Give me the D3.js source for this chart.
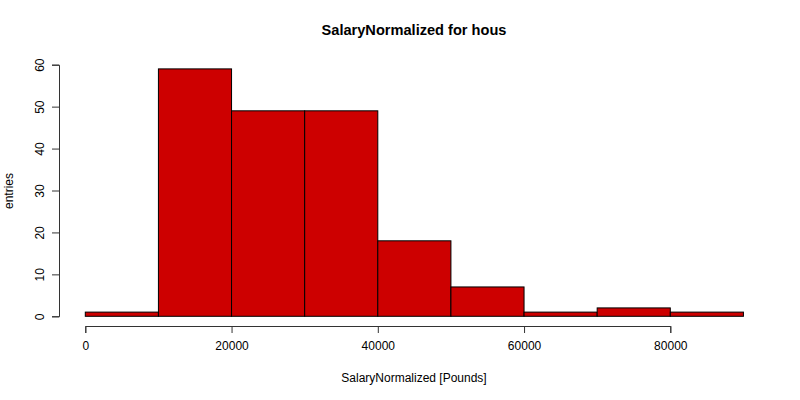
<!DOCTYPE html>
<html>
<head>
<meta charset="utf-8">
<script src="https://cdn.jsdelivr.net/npm/d3@7"></script>
<style>
  body { margin: 0; background: white; }
  text { font-family: "Liberation Sans", Arial, sans-serif; }
</style>
</head>
<body>
<div id="chart"></div>
<script>
// Histogram bins (lower edge, upper edge) and counts
const binEdges = [0, 10000, 20000, 30000, 40000, 50000, 60000, 70000, 80000, 90000];
const counts = [1, 59, 49, 49, 18, 7, 1, 2, 1];
const xTicks = [0, 20000, 40000, 60000, 80000];
const yTicks = [0, 10, 20, 30, 40, 50, 60];

const width = 800, height = 400;
const font = '"Liberation Sans", Arial, sans-serif';

const svg = d3.select('#chart').append('svg')
    .attr('width', width)
    .attr('height', height);

// Scales set to the R plot region
const x = d3.scaleLinear().domain([0, 80000]).range([85.3, 670.3]);
const y = d3.scaleLinear().domain([0, 60]).range([316.3, 64.7]);

const bins = counts.map((c, i) => ({ x0: binEdges[i], x1: binEdges[i + 1], n: c }));

svg.append('g')
  .selectAll('rect')
  .data(bins)
  .join('rect')
    .attr('x', d => x(d.x0))
    .attr('y', d => y(d.n))
    .attr('width', d => x(d.x1) - x(d.x0))
    .attr('height', d => y(0) - y(d.n))
    .attr('fill', '#cd0000')
    .attr('stroke', 'black')
    .attr('stroke-width', 1);

// X axis
const xAxis = d3.axisBottom(x)
    .tickValues(xTicks)
    .tickFormat(d3.format('d'))
    .tickSizeOuter(0)
    .tickSize(7)
    .tickPadding(8);

const gx = svg.append('g')
    .attr('transform', 'translate(0,326)')
    .call(xAxis);
gx.select('.domain').attr('stroke', '#333');
gx.selectAll('.tick line').attr('stroke', '#333');
gx.selectAll('text').attr('font-size', 12).attr('fill', '#000')
  .attr('font-family', font);

// Y axis
const yAxis = d3.axisLeft(y)
    .tickValues(yTicks)
    .tickSizeOuter(0)
    .tickSize(7);

const gy = svg.append('g')
    .attr('transform', 'translate(59,0)')
    .call(yAxis);
gy.select('.domain').attr('stroke', '#333');
gy.selectAll('.tick line').attr('stroke', '#333');
gy.selectAll('text')
    .attr('font-size', 12)
    .attr('fill', '#000')
    .attr('font-family', font)
    .attr('transform', 'translate(-19,0) rotate(-90)')
    .attr('x', 0)
    .attr('dy', '0.35em')
    .attr('text-anchor', 'middle');

// Title
svg.append('text')
    .attr('x', 414)
    .attr('y', 35)
    .attr('text-anchor', 'middle')
    .attr('font-size', 14.6)
    .attr('font-weight', 'bold')
    .text('SalaryNormalized for hous');

// Axis labels
svg.append('text')
    .attr('x', 414)
    .attr('y', 382)
    .attr('text-anchor', 'middle')
    .attr('font-size', 12)
    .text('SalaryNormalized [Pounds]');

svg.append('text')
    .attr('transform', 'translate(13,191) rotate(-90)')
    .attr('text-anchor', 'middle')
    .attr('font-size', 12)
    .text('entries');
</script>
</body>
</html>
